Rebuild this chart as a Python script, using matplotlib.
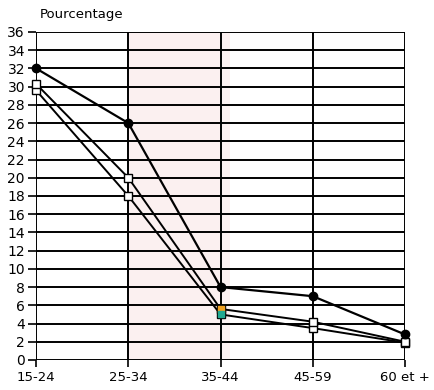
import numpy as np
import matplotlib.pyplot as plt

groupes = ['15-24', '25-34', '35-44', '45-59', '60 et +']
serie_ronds = [32, 26, 8, 7, 2.8]
serie_carres_haut = [30.3, 20, 5.6, 4.2, 2.0]
serie_carres_bas = [29.6, 18, 5.0, 3.5, 1.9]
yticks = list(range(0, 37, 2))

x = np.arange(len(groupes))

fig = plt.figure(figsize=(4.35, 3.9), dpi=100)
ax = fig.add_axes([0.083, 0.077, 0.848, 0.841])

# scan stain behind the 25-34 / 35-44 columns
ax.axvspan(1, 2.1, color='#f7dede', alpha=0.45, lw=0, zorder=0)

for yv in yticks:
    ax.axhline(yv, color='black', lw=1.4, zorder=1)
for xv in x:
    ax.axvline(xv, color='black', lw=1.4, zorder=1)

ax.plot(x, serie_carres_bas, color='black', lw=1.4, marker='s', ms=6,
        mfc='white', mec='black', mew=1, zorder=3, clip_on=False)
ax.plot(x, serie_carres_haut, color='black', lw=1.4, marker='s', ms=6,
        mfc='white', mec='black', mew=1, zorder=3, clip_on=False)
ax.plot(x, serie_ronds, color='black', lw=1.6, marker='o', ms=6,
        mfc='black', mec='black', zorder=4, clip_on=False)
# coloured markers visible at 35-44
ax.plot(x[2], serie_carres_haut[2], marker='s', ms=4, color='#f0a020', zorder=5)
ax.plot(x[2], serie_carres_bas[2], marker='s', ms=4, color='#20a890', zorder=5)

ax.set_xlim(0, 4)
ax.set_ylim(0, 36)
ax.set_xticks(x)
ax.set_xticklabels(groupes)
ax.set_yticks(yticks)
for s in ax.spines.values():
    s.set_visible(False)
ax.tick_params(axis='y', length=6, width=1.2, pad=2, labelsize=10)
ax.tick_params(axis='x', length=5, width=1.2, pad=3, labelsize=9.5)

fig.text(0.092, 0.962, 'Pourcentage', fontsize=9.5, ha='left', va='center')

fig.savefig('out.png', dpi=100)
